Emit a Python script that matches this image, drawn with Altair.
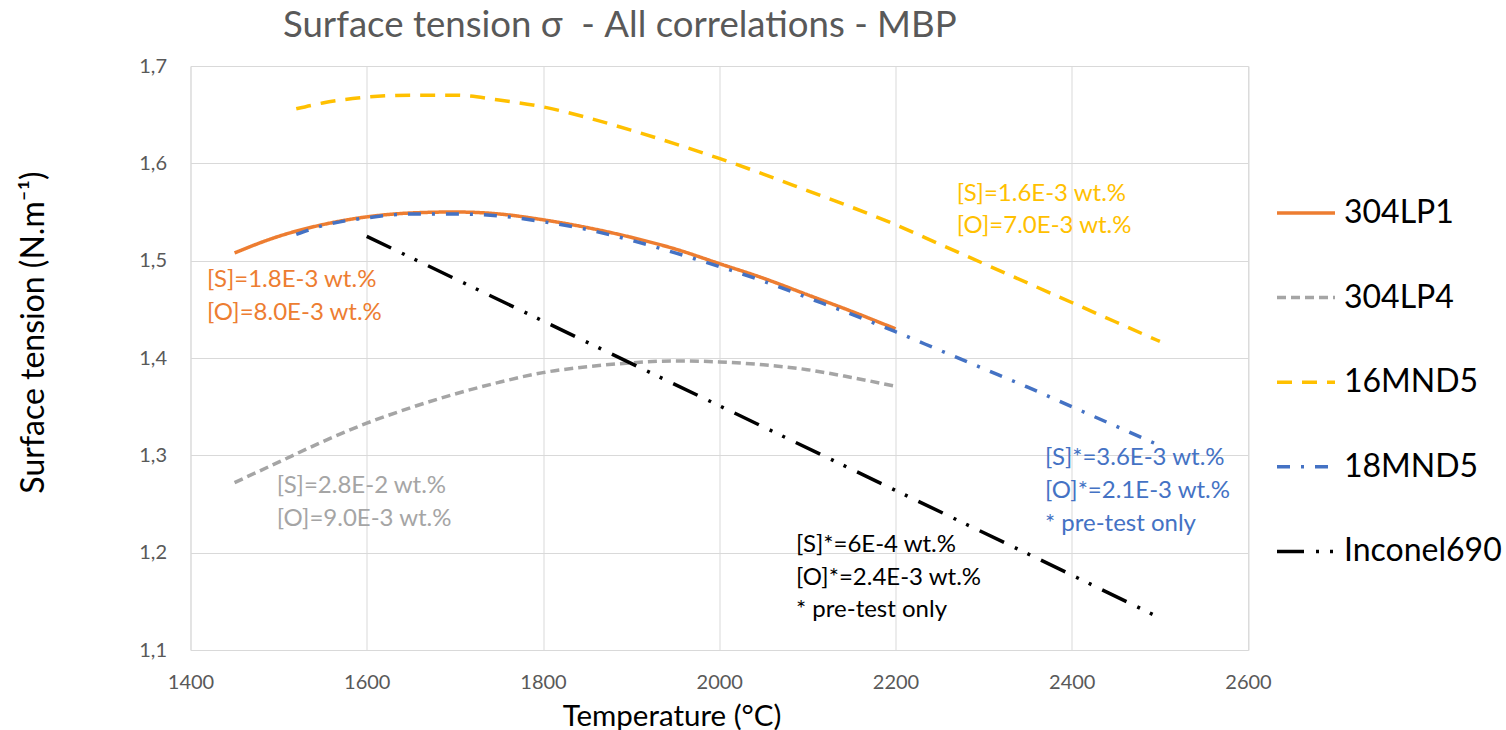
import altair as alt
import pandas as pd

# ---------------- data ----------------
SERIES = ["304LP1", "304LP4", "16MND5", "18MND5", "Inconel690"]
COLORS = ["#ED7D31", "#A5A5A5", "#FFC000", "#4472C4", "#000000"]
DASHES = [[1, 0], [9, 5], [15, 10], [13, 11, 3, 11], [27, 12, 3, 11, 3, 12]]

t_304lp1 = [1450, 1500, 1550, 1600, 1650, 1700, 1750, 1800, 1850, 1900, 1950, 2000, 2050, 2100, 2150, 2200]
s_304lp1 = [1.508, 1.525, 1.537, 1.545, 1.549, 1.550, 1.548, 1.542, 1.534, 1.524, 1.512, 1.497, 1.482, 1.465, 1.448, 1.430]

t_304lp4 = [1450, 1500, 1550, 1600, 1650, 1700, 1750, 1800, 1850, 1900, 1950, 2000, 2050, 2100, 2150, 2200]
s_304lp4 = [1.272, 1.293, 1.314, 1.333, 1.349, 1.363, 1.375, 1.385, 1.391, 1.395, 1.397, 1.396, 1.393, 1.388, 1.380, 1.371]

t_16mnd5 = [1520, 1550, 1600, 1650, 1700, 1750, 1800, 1850, 1900, 1950, 2000, 2050, 2100, 2150, 2200, 2250, 2300, 2350, 2400, 2450, 2500]
s_16mnd5 = [1.656, 1.662, 1.668, 1.670, 1.670, 1.665, 1.658, 1.647, 1.634, 1.620, 1.605, 1.589, 1.572, 1.555, 1.537, 1.517, 1.497, 1.477, 1.457, 1.437, 1.417]

t_18mnd5 = [1520, 1550, 1600, 1650, 1700, 1750, 1800, 1850, 1900, 1950, 2000, 2050, 2100, 2150, 2200, 2250, 2300, 2350, 2400, 2450, 2500]
s_18mnd5 = [1.527, 1.536, 1.544, 1.548, 1.548, 1.546, 1.540, 1.532, 1.521, 1.508, 1.494, 1.479, 1.462, 1.445, 1.427, 1.408, 1.389, 1.370, 1.350, 1.330, 1.310]

t_inconel = [1600, 1800, 2000, 2200, 2400, 2500]
s_inconel = [1.525, 1.438, 1.351, 1.264, 1.177, 1.133]

X_TICKS = [1400, 1600, 1800, 2000, 2200, 2400, 2600]
Y_TICKS = [1.1, 1.2, 1.3, 1.4, 1.5, 1.6, 1.7]

# annotation texts (anchored in data units: temperature, sigma of baseline)
ann_text = [
    "[S]=1.8E-3 wt.%", "[O]=8.0E-3 wt.%",
    "[S]=1.6E-3 wt.%", "[O]=7.0E-3 wt.%",
    "[S]=2.8E-2 wt.%", "[O]=9.0E-3 wt.%",
    "[S]*=3.6E-3 wt.%", "[O]*=2.1E-3 wt.%", "* pre-test only",
    "[S]*=6E-4 wt.%", "[O]*=2.4E-3 wt.%", "* pre-test only",
]
ann_t = [1418.7, 1418.7, 2269.4, 2269.4, 1497.8, 1497.8, 2369.6, 2369.6, 2369.6, 2087.1, 2087.1, 2087.1]
ann_s = [1.4726, 1.4390, 1.5617, 1.5281, 1.2610, 1.2274, 1.2901, 1.2558, 1.2223, 1.2010, 1.1668, 1.1336]
ann_series = ["304LP1", "304LP1", "16MND5", "16MND5", "304LP4", "304LP4",
              "18MND5", "18MND5", "18MND5", "Inconel690", "Inconel690", "Inconel690"]

# ---------------- build tables ----------------
rows = []
for name, ts, ss in [("304LP1", t_304lp1, s_304lp1), ("304LP4", t_304lp4, s_304lp4),
                     ("16MND5", t_16mnd5, s_16mnd5), ("18MND5", t_18mnd5, s_18mnd5),
                     ("Inconel690", t_inconel, s_inconel)]:
    for t, s in zip(ts, ss):
        rows.append({"series": name, "T": t, "sigma": s})
df = pd.DataFrame(rows)
ann = pd.DataFrame({"text": ann_text, "T": ann_t, "sigma": ann_s, "series": ann_series})

FONT = "Lato"
PW, PH = 1057.5, 584

xscale = alt.Scale(domain=[1400, 2600], nice=False, zero=False)
yscale = alt.Scale(domain=[1.1, 1.7], nice=False, zero=False)

xaxis = alt.Axis(values=X_TICKS, format="d", title="Temperature (°C)", grid=True, gridColor="#D9D9D9",
                 gridWidth=1, domain=False, ticks=False, tickSize=0, labelFont=FONT,
                 labelFontSize=20, labelColor="#595959", labelPadding=32, labelBaseline="middle",
                 labelFlush=False, labelOverlap=False,
                 titleFont=FONT, titleFontSize=29.5, titleFontWeight="normal", titleColor="#000000",
                 titleX=481, titleY=75, titleBaseline="alphabetic", titleAlign="center")
yaxis = alt.Axis(values=Y_TICKS, title="Surface tension (N.m⁻¹)", grid=True, gridColor="#D9D9D9",
                 gridWidth=1, domain=False, ticks=False, tickSize=0, labelFont=FONT,
                 labelFontSize=20, labelColor="#595959", labelPadding=24,
                 labelFlush=False, labelOverlap=False,
                 labelExpr="replace(format(datum.value, '.1f'), '.', ',')",
                 titleFont=FONT, titleFontSize=32, titleFontWeight="normal", titleColor="#000000",
                 titleX=-147.5, titleY=266, titleBaseline="alphabetic", titleAngle=270,
                 titleAlign="center")

legend = alt.Legend(title=None, orient="none", legendX=1084.5, legendY=116, symbolType="stroke",
                    symbolSize=3364, symbolStrokeWidth=3.5, labelFont=FONT, labelFontSize=32,
                    labelColor="#000000", rowPadding=37.6, labelOffset=7, padding=0,
                    labelBaseline="middle")

lines = alt.Chart(df).mark_line(strokeWidth=3.5, interpolate="monotone").encode(
    x=alt.X("T:Q", scale=xscale, axis=xaxis),
    y=alt.Y("sigma:Q", scale=yscale, axis=yaxis),
    color=alt.Color("series:N", scale=alt.Scale(domain=SERIES, range=COLORS), legend=legend),
    strokeDash=alt.StrokeDash("series:N", scale=alt.Scale(domain=SERIES, range=DASHES), legend=legend),
    order=alt.Order("T:Q"),
)

layers = [lines]
for name, col in zip(SERIES, COLORS):
    sub = ann[ann["series"] == name]
    layers.append(
        alt.Chart(sub).mark_text(align="left", baseline="alphabetic", font=FONT, fontSize=24,
                                 color=col).encode(
            x=alt.X("T:Q", scale=xscale),
            y=alt.Y("sigma:Q", scale=yscale),
            text="text:N",
        )
    )

chart = alt.layer(*layers).properties(
    width=PW, height=PH,
    autosize=alt.AutoSizeParams(type="none"),
    padding={"left": 190.5, "top": 66, "right": 258, "bottom": 80},
    title=alt.TitleParams(text="Surface tension σ\u00a0 - All correlations - MBP", anchor="start",
                          frame="group", dx=92.5, dy=32, offset=14, baseline="alphabetic", font=FONT,
                          fontSize=36.6, fontWeight="normal", color="#595959"),
).configure_view(stroke=None).configure(background="white")

chart.save("out.html", embed_options={"renderer": "svg", "actions": False})
